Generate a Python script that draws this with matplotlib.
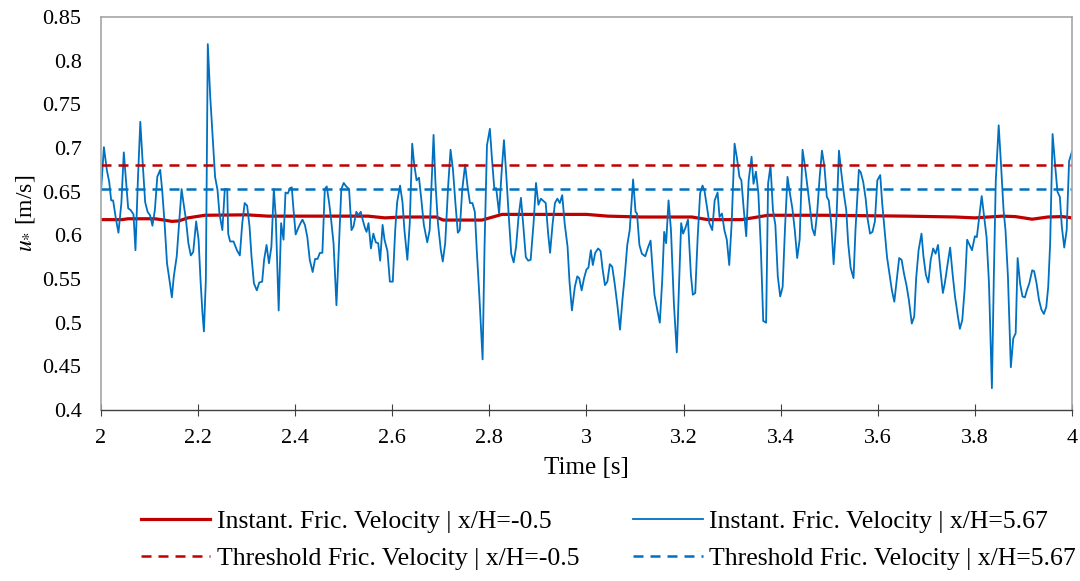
import numpy as np
import matplotlib
matplotlib.use('Agg')
import matplotlib.pyplot as plt
from matplotlib.ticker import FuncFormatter, MultipleLocator

plt.rcParams['font.family'] = ['Liberation Serif', 'DejaVu Serif']
plt.rcParams['mathtext.fontset'] = 'stix'

# instantaneous friction velocity at x/H=5.67, (t [s], u* [m/s])
seg_a = [(2.000, 0.650), (2.006, 0.701), (2.012, 0.675), (2.017, 0.661), (2.021, 0.640), (2.025, 0.640),
         (2.031, 0.618), (2.036, 0.603), (2.042, 0.637), (2.047, 0.695), (2.052, 0.659), (2.056, 0.631),
         (2.061, 0.629), (2.067, 0.624), (2.071, 0.583), (2.076, 0.663), (2.081, 0.730), (2.086, 0.682),
         (2.091, 0.638), (2.096, 0.627), (2.101, 0.623), (2.106, 0.611), (2.111, 0.629), (2.116, 0.667),
         (2.122, 0.675), (2.126, 0.652), (2.131, 0.614), (2.136, 0.568), (2.141, 0.549), (2.146, 0.529),
         (2.150, 0.553), (2.156, 0.576), (2.161, 0.614), (2.166, 0.653), (2.170, 0.637), (2.175, 0.618),
         (2.180, 0.591), (2.185, 0.577), (2.190, 0.581), (2.196, 0.616), (2.201, 0.595), (2.205, 0.549),
         (2.209, 0.511), (2.212, 0.490), (2.216, 0.549), (2.220, 0.819), (2.225, 0.759), (2.230, 0.713),
         (2.235, 0.667), (2.240, 0.652), (2.244, 0.625), (2.250, 0.606), (2.255, 0.653), (2.260, 0.653),
         (2.262, 0.602), (2.266, 0.593), (2.273, 0.593), (2.280, 0.583), (2.286, 0.577), (2.291, 0.614),
         (2.296, 0.637), (2.301, 0.634), (2.306, 0.610), (2.310, 0.576), (2.315, 0.545), (2.321, 0.537),
         (2.326, 0.546)]
seg_b = [(2.332, 0.547), (2.336, 0.572), (2.341, 0.589), (2.346, 0.568), (2.351, 0.587), (2.356, 0.653),
         (2.360, 0.621), (2.366, 0.514), (2.371, 0.614), (2.376, 0.595), (2.380, 0.649), (2.385, 0.648),
         (2.389, 0.654), (2.393, 0.655), (2.396, 0.633), (2.401, 0.601), (2.406, 0.608), (2.411, 0.614),
         (2.415, 0.618), (2.420, 0.612), (2.425, 0.598), (2.430, 0.572), (2.436, 0.558), (2.441, 0.573),
         (2.446, 0.573), (2.451, 0.580), (2.456, 0.580), (2.461, 0.653), (2.465, 0.656), (2.470, 0.637),
         (2.474, 0.618), (2.479, 0.591), (2.485, 0.520), (2.490, 0.587), (2.495, 0.653), (2.500, 0.660),
         (2.505, 0.656), (2.511, 0.653), (2.516, 0.606), (2.520, 0.610), (2.526, 0.627), (2.530, 0.623),
         (2.535, 0.627), (2.539, 0.618), (2.544, 0.608), (2.547, 0.604), (2.551, 0.614), (2.556, 0.585),
         (2.561, 0.602), (2.566, 0.592), (2.571, 0.591), (2.575, 0.571), (2.580, 0.612), (2.584, 0.595),
         (2.590, 0.582), (2.595, 0.547), (2.601, 0.547), (2.606, 0.606), (2.610, 0.638), (2.616, 0.657),
         (2.621, 0.638), (2.625, 0.606), (2.631, 0.572), (2.636, 0.614), (2.641, 0.705), (2.645, 0.682),
         (2.650, 0.663), (2.655, 0.666), (2.660, 0.640)]
seg_c = [(2.665, 0.612), (2.672, 0.592), (2.677, 0.606), (2.685, 0.715), (2.689, 0.659), (2.694, 0.614),
         (2.700, 0.583), (2.704, 0.570), (2.709, 0.591), (2.715, 0.656), (2.720, 0.698), (2.725, 0.675),
         (2.730, 0.637), (2.735, 0.603), (2.739, 0.606), (2.744, 0.652), (2.750, 0.681), (2.755, 0.656),
         (2.760, 0.637), (2.765, 0.637), (2.770, 0.627), (2.774, 0.583), (2.779, 0.534), (2.786, 0.458),
         (2.790, 0.587), (2.795, 0.703), (2.801, 0.722), (2.805, 0.690), (2.810, 0.654), (2.814, 0.654),
         (2.820, 0.625), (2.825, 0.671), (2.830, 0.709), (2.835, 0.667), (2.840, 0.621), (2.845, 0.579),
         (2.850, 0.569), (2.855, 0.587), (2.860, 0.621), (2.865, 0.643), (2.870, 0.610), (2.875, 0.575),
         (2.880, 0.571), (2.885, 0.572), (2.891, 0.614), (2.896, 0.660), (2.901, 0.635), (2.906, 0.642),
         (2.910, 0.640), (2.916, 0.637), (2.921, 0.602), (2.925, 0.580), (2.930, 0.612), (2.935, 0.637),
         (2.940, 0.642), (2.945, 0.637), (2.950, 0.646), (2.955, 0.614), (2.961, 0.587), (2.965, 0.547),
         (2.970, 0.514), (2.976, 0.541), (2.981, 0.553), (2.985, 0.551), (2.990, 0.537), (2.995, 0.551),
         (3.000, 0.561)]
seg_d = [(3.004, 0.563), (3.009, 0.583), (3.013, 0.566), (3.018, 0.580), (3.024, 0.585), (3.029, 0.582),
         (3.033, 0.562), (3.038, 0.543), (3.043, 0.547), (3.048, 0.567), (3.053, 0.564), (3.058, 0.545),
         (3.064, 0.518), (3.069, 0.492), (3.074, 0.526), (3.079, 0.555), (3.084, 0.589), (3.089, 0.606),
         (3.093, 0.640), (3.096, 0.664), (3.101, 0.627), (3.104, 0.625), (3.109, 0.589), (3.114, 0.579),
         (3.121, 0.576), (3.126, 0.585), (3.132, 0.594), (3.136, 0.562), (3.140, 0.532), (3.146, 0.514),
         (3.151, 0.500), (3.156, 0.549), (3.160, 0.604), (3.164, 0.591), (3.169, 0.640), (3.174, 0.606),
         (3.180, 0.522), (3.186, 0.466), (3.190, 0.534), (3.195, 0.614), (3.199, 0.602), (3.204, 0.609),
         (3.209, 0.618), (3.215, 0.555), (3.219, 0.532), (3.224, 0.534), (3.229, 0.598), (3.234, 0.648),
         (3.239, 0.657), (3.243, 0.651), (3.248, 0.633), (3.253, 0.614), (3.259, 0.606), (3.264, 0.640),
         (3.270, 0.649), (3.274, 0.621), (3.279, 0.625), (3.284, 0.606), (3.289, 0.595), (3.294, 0.566),
         (3.299, 0.614), (3.305, 0.705), (3.310, 0.688), (3.315, 0.667), (3.319, 0.663), (3.324, 0.629),
         (3.329, 0.599), (3.334, 0.663)]
seg_e = [(3.340, 0.690), (3.344, 0.659), (3.349, 0.673), (3.354, 0.648), (3.359, 0.587), (3.364, 0.502),
         (3.370, 0.500), (3.374, 0.659), (3.379, 0.680), (3.384, 0.629), (3.389, 0.612), (3.394, 0.553),
         (3.399, 0.530), (3.404, 0.541), (3.409, 0.610), (3.414, 0.667), (3.419, 0.648), (3.424, 0.631),
         (3.429, 0.606), (3.434, 0.574), (3.439, 0.595), (3.445, 0.698), (3.450, 0.679), (3.455, 0.656),
         (3.460, 0.633), (3.465, 0.608), (3.470, 0.600), (3.475, 0.625), (3.480, 0.665), (3.485, 0.697),
         (3.490, 0.679), (3.495, 0.644), (3.499, 0.640), (3.504, 0.614), (3.509, 0.567), (3.515, 0.621),
         (3.520, 0.697), (3.525, 0.671), (3.530, 0.648), (3.535, 0.629), (3.539, 0.591), (3.544, 0.563),
         (3.550, 0.551), (3.554, 0.606), (3.561, 0.675), (3.565, 0.672), (3.570, 0.661), (3.575, 0.642),
         (3.579, 0.619), (3.584, 0.602), (3.589, 0.604), (3.594, 0.616), (3.599, 0.663), (3.605, 0.669),
         (3.609, 0.637), (3.614, 0.606), (3.619, 0.575), (3.624, 0.556), (3.629, 0.537), (3.634, 0.524),
         (3.639, 0.549), (3.644, 0.574), (3.649, 0.572), (3.654, 0.556), (3.659, 0.543), (3.664, 0.526)]
seg_f = [(3.670, 0.499), (3.675, 0.507), (3.679, 0.551), (3.684, 0.583), (3.690, 0.602), (3.694, 0.576),
         (3.699, 0.555), (3.704, 0.546), (3.709, 0.572), (3.714, 0.585), (3.719, 0.579), (3.724, 0.589),
         (3.729, 0.560), (3.734, 0.534), (3.738, 0.545), (3.744, 0.568), (3.749, 0.586), (3.754, 0.556),
         (3.759, 0.530), (3.765, 0.507), (3.769, 0.493), (3.774, 0.503), (3.779, 0.539), (3.784, 0.595),
         (3.789, 0.589), (3.794, 0.583), (3.800, 0.599), (3.804, 0.598), (3.809, 0.621), (3.814, 0.645),
         (3.819, 0.621), (3.824, 0.598), (3.829, 0.545), (3.835, 0.425), (3.839, 0.553), (3.843, 0.663),
         (3.849, 0.726), (3.854, 0.679), (3.859, 0.629), (3.863, 0.606), (3.868, 0.553), (3.874, 0.449),
         (3.879, 0.482), (3.884, 0.488), (3.888, 0.574), (3.893, 0.545), (3.898, 0.530), (3.903, 0.529),
         (3.907, 0.537), (3.912, 0.545), (3.918, 0.560), (3.922, 0.559), (3.927, 0.545), (3.932, 0.526),
         (3.937, 0.515), (3.942, 0.510), (3.947, 0.518), (3.951, 0.541), (3.955, 0.591), (3.960, 0.716),
         (3.965, 0.682), (3.970, 0.650), (3.975, 0.644), (3.979, 0.610), (3.984, 0.586), (3.989, 0.606),
         (3.994, 0.685), (4.000, 0.696)]

# instantaneous friction velocity at x/H=-0.5 (smooth)
red_pts = [(2.000, 0.618), (2.043, 0.618), (2.056, 0.619), (2.111, 0.619), (2.130, 0.6175), (2.146, 0.616),
           (2.160, 0.6165), (2.179, 0.620), (2.214, 0.623), (2.300, 0.6235), (2.344, 0.622), (2.550, 0.622),
           (2.585, 0.620), (2.620, 0.621), (2.690, 0.621), (2.705, 0.6175), (2.785, 0.6175), (2.826, 0.624),
           (3.000, 0.624), (3.044, 0.622), (3.114, 0.621), (3.217, 0.621), (3.250, 0.618), (3.320, 0.618),
           (3.374, 0.623), (3.490, 0.623), (3.660, 0.622), (3.760, 0.621), (3.800, 0.620), (3.856, 0.622),
           (3.883, 0.6215), (3.918, 0.6185), (3.950, 0.621), (3.980, 0.6215), (4.000, 0.620)]

thr_red = 0.680
thr_blue = 0.653

blue = np.array(seg_a + seg_b + seg_c + seg_d + seg_e + seg_f)
red = np.array(red_pts)

c_red = '#C00000'
c_blue = '#0070C0'

fig = plt.figure(figsize=(10.8, 5.81), dpi=100)
ax = fig.add_axes([0.0935, 0.2943, 0.8991, 0.6764])

l1, = ax.plot(red[:, 0], red[:, 1], color=c_red, lw=2.3, label='Instant. Fric. Velocity | x/H=-0.5')
l2, = ax.plot(blue[:, 0], blue[:, 1], color=c_blue, lw=1.3, label='Instant. Fric. Velocity | x/H=5.67')
l3 = ax.axhline(thr_red, color=c_red, lw=1.8, dashes=(4, 2.8), label='Threshold Fric. Velocity | x/H=-0.5')
l4 = ax.axhline(thr_blue, color=c_blue, lw=1.8, dashes=(4, 2.8), label='Threshold Fric. Velocity | x/H=5.67')

ax.set_xlim(2, 4)
ax.set_ylim(0.4, 0.85)
ax.xaxis.set_major_locator(MultipleLocator(0.2))
ax.yaxis.set_major_locator(MultipleLocator(0.05))
fmt = FuncFormatter(lambda v, p: '%g' % round(v, 2))
ax.xaxis.set_major_formatter(fmt)
ax.yaxis.set_major_formatter(fmt)
ax.tick_params(axis='x', direction='inout', length=9, width=0.8, color='#404040', labelsize=16, pad=9)
ax.tick_params(axis='y', length=0, labelsize=16, pad=14)

for s in ['left', 'top', 'right']:
    ax.spines[s].set_color('#A6A6A6')
    ax.spines[s].set_linewidth(1.2)
ax.spines['bottom'].set_color('#404040')
ax.spines['bottom'].set_linewidth(1.0)

ax.set_xlabel('Time [s]', fontsize=18, labelpad=7)
ax.set_ylabel(r'$u_{*}$ [m/s]', fontsize=17, labelpad=4)

fig.legend(handles=[l1, l3, l2, l4], ncol=2, loc='center', bbox_to_anchor=(0.5634, 0.071),
           frameon=False, fontsize=18.5, handlelength=2.7, columnspacing=2.1,
           labelspacing=0.55, handletextpad=0.25, borderpad=0.2)

plt.savefig('out.png', dpi=100)
